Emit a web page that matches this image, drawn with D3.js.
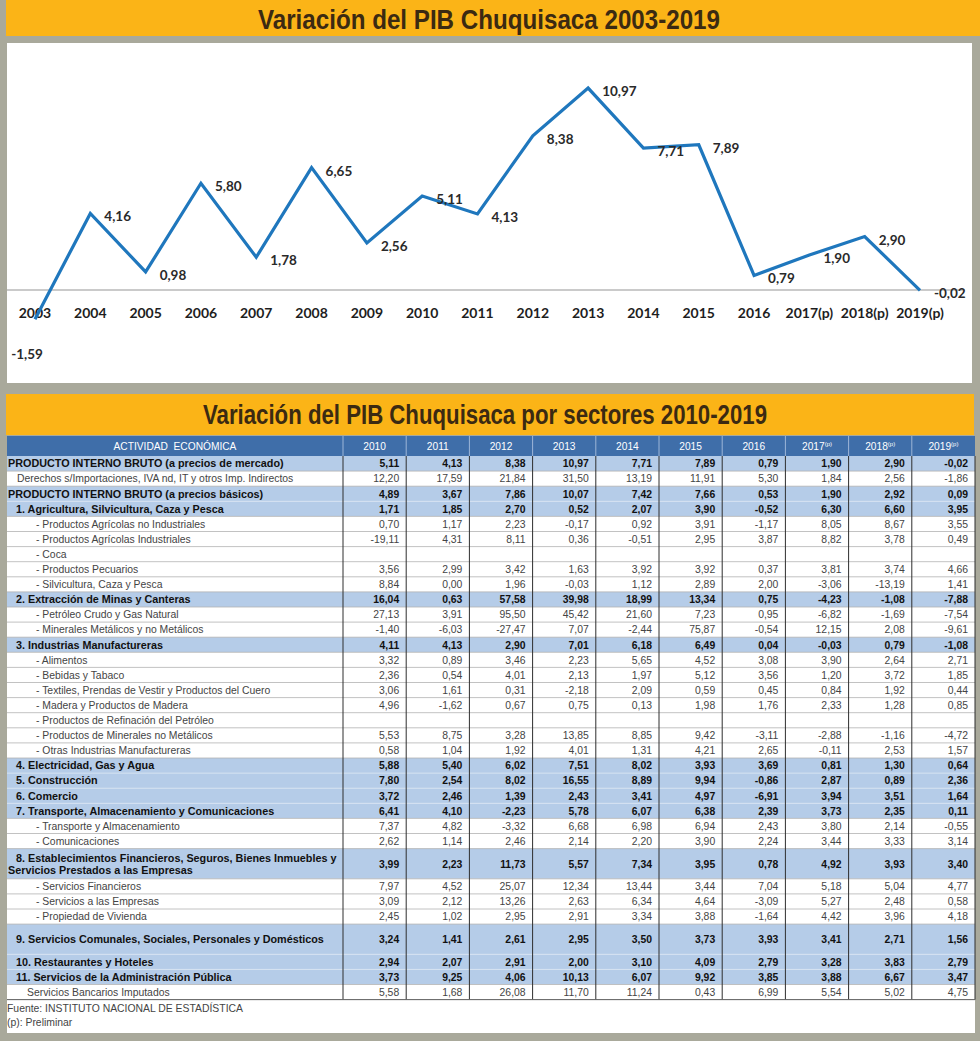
<!DOCTYPE html>
<html><head><meta charset="utf-8">
<script src="https://cdn.jsdelivr.net/npm/d3@7/dist/d3.min.js"></script>
<style>
html,body{margin:0;padding:0;background:#a9a99b;}
svg{display:block;}
</style></head>
<body>
<svg id="c" width="980" height="1041"></svg>
<script>
// ---------- DATA ----------
const chartTitle = "Variación del PIB Chuquisaca 2003-2019";
const tableTitle = "Variación del PIB Chuquisaca por sectores 2010-2019";
const chartYears = ["2003","2004","2005","2006","2007","2008","2009","2010","2011","2012","2013","2014","2015","2016","2017(p)","2018(p)","2019(p)"];
const chartValues = [-1.59,4.16,0.98,5.80,1.78,6.65,2.56,5.11,4.13,8.38,10.97,7.71,7.89,0.79,1.90,2.90,-0.02];

const tableYears = ["2010","2011","2012","2013","2014","2015","2016","2017","2018","2019"];
const prelimYears = ["2017","2018","2019"];
const headerLabel = "ACTIVIDAD  ECONÓMICA";
const sectorLabels = [
 "PRODUCTO INTERNO BRUTO (a precios de mercado)",
 "Derechos s/Importaciones, IVA nd, IT y otros Imp. Indirectos",
 "PRODUCTO INTERNO BRUTO (a precios básicos)",
 "1. Agricultura, Silvicultura, Caza y Pesca",
 "- Productos Agrícolas no Industriales",
 "- Productos Agrícolas Industriales",
 "- Coca",
 "- Productos Pecuarios",
 "- Silvicultura, Caza y Pesca",
 "2. Extracción de Minas y Canteras",
 "- Petróleo Crudo y Gas Natural",
 "- Minerales Metálicos y no Metálicos",
 "3. Industrias Manufactureras",
 "- Alimentos",
 "- Bebidas y Tabaco",
 "- Textiles, Prendas de Vestir y Productos del Cuero",
 "- Madera y Productos de Madera",
 "- Productos de Refinación del Petróleo",
 "- Productos de Minerales no Metálicos",
 "- Otras Industrias Manufactureras",
 "4. Electricidad, Gas y Agua",
 "5. Construcción",
 "6. Comercio",
 "7. Transporte, Almacenamiento y Comunicaciones",
 "- Transporte y Almacenamiento",
 "- Comunicaciones",
 "8. Establecimientos Financieros, Seguros, Bienes Inmuebles y|Servicios Prestados a las Empresas",
 "- Servicios Financieros",
 "- Servicios a las Empresas",
 "- Propiedad de Vivienda",
 "9. Servicios Comunales, Sociales, Personales y Domésticos",
 "10. Restaurantes y Hoteles",
 "11. Servicios de la Administración Pública",
 "Servicios Bancarios Imputados"
];
// kind: T = total, N = note, S = sector, s = subsector, D = sector (tall row)
const sectorKinds = ["T","N","T","S","s","s","s","s","s","S","s","s","S","s","s","s","s","s","s","s","S","S","S","S","s","s","D","s","s","s","D","S","S","N"];
const sectorValues = [
 [5.11,4.13,8.38,10.97,7.71,7.89,0.79,1.90,2.90,-0.02],
 [12.20,17.59,21.84,31.50,13.19,11.91,5.30,1.84,2.56,-1.86],
 [4.89,3.67,7.86,10.07,7.42,7.66,0.53,1.90,2.92,0.09],
 [1.71,1.85,2.70,0.52,2.07,3.90,-0.52,6.30,6.60,3.95],
 [0.70,1.17,2.23,-0.17,0.92,3.91,-1.17,8.05,8.67,3.55],
 [-19.11,4.31,8.11,0.36,-0.51,2.95,3.87,8.82,3.78,0.49],
 [null,null,null,null,null,null,null,null,null,null],
 [3.56,2.99,3.42,1.63,3.92,3.92,0.37,3.81,3.74,4.66],
 [8.84,0.00,1.96,-0.03,1.12,2.89,2.00,-3.06,-13.19,1.41],
 [16.04,0.63,57.58,39.98,18.99,13.34,0.75,-4.23,-1.08,-7.88],
 [27.13,3.91,95.50,45.42,21.60,7.23,0.95,-6.82,-1.69,-7.54],
 [-1.40,-6.03,-27.47,7.07,-2.44,75.87,-0.54,12.15,2.08,-9.61],
 [4.11,4.13,2.90,7.01,6.18,6.49,0.04,-0.03,0.79,-1.08],
 [3.32,0.89,3.46,2.23,5.65,4.52,3.08,3.90,2.64,2.71],
 [2.36,0.54,4.01,2.13,1.97,5.12,3.56,1.20,3.72,1.85],
 [3.06,1.61,0.31,-2.18,2.09,0.59,0.45,0.84,1.92,0.44],
 [4.96,-1.62,0.67,0.75,0.13,1.98,1.76,2.33,1.28,0.85],
 [null,null,null,null,null,null,null,null,null,null],
 [5.53,8.75,3.28,13.85,8.85,9.42,-3.11,-2.88,-1.16,-4.72],
 [0.58,1.04,1.92,4.01,1.31,4.21,2.65,-0.11,2.53,1.57],
 [5.88,5.40,6.02,7.51,8.02,3.93,3.69,0.81,1.30,0.64],
 [7.80,2.54,8.02,16.55,8.89,9.94,-0.86,2.87,0.89,2.36],
 [3.72,2.46,1.39,2.43,3.41,4.97,-6.91,3.94,3.51,1.64],
 [6.41,4.10,-2.23,5.78,6.07,6.38,2.39,3.73,2.35,0.11],
 [7.37,4.82,-3.32,6.68,6.98,6.94,2.43,3.80,2.14,-0.55],
 [2.62,1.14,2.46,2.14,2.20,3.90,2.24,3.44,3.33,3.14],
 [3.99,2.23,11.73,5.57,7.34,3.95,0.78,4.92,3.93,3.40],
 [7.97,4.52,25.07,12.34,13.44,3.44,7.04,5.18,5.04,4.77],
 [3.09,2.12,13.26,2.63,6.34,4.64,-3.09,5.27,2.48,0.58],
 [2.45,1.02,2.95,2.91,3.34,3.88,-1.64,4.42,3.96,4.18],
 [3.24,1.41,2.61,2.95,3.50,3.73,3.93,3.41,2.71,1.56],
 [2.94,2.07,2.91,2.00,3.10,4.09,2.79,3.28,3.83,2.79],
 [3.73,9.25,4.06,10.13,6.07,9.92,3.85,3.88,6.67,3.47],
 [5.58,1.68,26.08,11.70,11.24,0.43,6.99,5.54,5.02,4.75]
];
const footnotes = ["Fuente: INSTITUTO NACIONAL DE ESTADÍSTICA","(p): Preliminar"];

// ---------- DRAW ----------
const svg = d3.select("#c");
const YELLOW = "#fbb417", GRAY = "#a9a99b";
const locale = d3.formatLocale({decimal:",", thousands:".", grouping:[3], currency:["",""], minus:"-"});
const f2 = locale.format(".2f");
const fmt = v => v == null ? "" : f2(v);

svg.append("rect").attr("width",980).attr("height",1041).attr("fill",GRAY);

// banner 1
svg.append("rect").attr("x",6).attr("y",0).attr("width",974).attr("height",36).attr("fill",YELLOW);
svg.append("text").attr("x",489).attr("y",29).attr("text-anchor","middle")
  .attr("font-family","'Liberation Sans',Arial,sans-serif").attr("font-weight","bold").attr("font-size",27)
  .attr("textLength",462).attr("lengthAdjust","spacingAndGlyphs")
  .attr("fill","#3b2a12").text(chartTitle);

// chart panel
svg.append("rect").attr("x",7).attr("y",43).attr("width",965).attr("height",340).attr("fill","#fff");

const x = d3.scalePoint().domain(chartYears).range([35,920]);
const y = d3.scaleLinear().domain([-2,12]).range([326.8,69.1]);

svg.append("line").attr("x1",7).attr("x2",965).attr("y1",y(0)).attr("y2",y(0))
  .attr("stroke","#b9b9b9").attr("stroke-width",1.5);

const labelFont = "Lato,'Open Sans',sans-serif";
svg.append("g").selectAll("text").data(chartYears).join("text")
  .attr("x",d=>x(d)).attr("y",y(0)+28).attr("text-anchor","middle")
  .attr("font-family",labelFont).attr("font-weight","bold").attr("font-size",14)
  .attr("fill","#1e1e1e").text(d=>d);

const line = d3.line().x((d,i)=>x(chartYears[i])).y(d=>y(d));
svg.append("path").datum(chartValues).attr("d",line).attr("fill","none")
  .attr("stroke","#1f77bd").attr("stroke-width",3.2).attr("stroke-linejoin","miter");

svg.append("g").selectAll("text").data(chartValues).join("text")
  .attr("x",(d,i)=> i===0 ? x(chartYears[i])-8 : x(chartYears[i])+14)
  .attr("y",(d,i)=> i===0 ? y(d)+40 : y(d)+8)
  .attr("text-anchor",(d,i)=> i===0 ? "middle" : "start")
  .attr("font-family",labelFont).attr("font-weight","bold").attr("font-size",13.5)
  .attr("fill","#2a2a2a").text(d=>fmt(d));

// banner 2
svg.append("rect").attr("x",6).attr("y",394).attr("width",968).attr("height",41).attr("fill",YELLOW);
svg.append("text").attr("x",485).attr("y",424).attr("text-anchor","middle")
  .attr("font-family","'Liberation Sans',Arial,sans-serif").attr("font-weight","bold").attr("font-size",28)
  .attr("textLength",564).attr("lengthAdjust","spacingAndGlyphs")
  .attr("fill","#3b2a12").text(tableTitle);

// table panel
const tLeft = 7, tRight = 975, labelRight = 343, headTop = 436, headBot = 456, rowH = 15.1;
svg.append("rect").attr("x",tLeft).attr("y",headTop).attr("width",tRight-tLeft).attr("height",1033-headTop).attr("fill","#fff");

const col = d3.scaleBand().domain(tableYears).range([labelRight,tRight]);

// row geometry
const rows = sectorLabels.map((lab,i)=>({lab, kind:sectorKinds[i], vals:sectorValues[i]}));
let cy = headBot;
rows.forEach(r=>{ r.h = r.kind==="D" ? rowH*2 : rowH; r.y = cy; cy += r.h; });
const tBottom = cy;

const tableFont = "'Liberation Sans',Arial,sans-serif";
// header
svg.append("rect").attr("x",tLeft).attr("y",headTop).attr("width",tRight-tLeft).attr("height",headBot-headTop).attr("fill","#3f6ea9");
svg.append("text").attr("x",(tLeft+labelRight)/2).attr("y",headBot-6).attr("text-anchor","middle")
  .attr("font-family",tableFont).attr("font-size",10.2).attr("fill","#fff")
  .attr("xml:space","preserve").text(headerLabel);
const ht = svg.append("g").selectAll("text").data(tableYears).join("text")
  .attr("x",d=>col(d)+col.bandwidth()/2).attr("y",headBot-6).attr("text-anchor","middle")
  .attr("font-family",tableFont).attr("font-size",10.2).attr("fill","#fff");
ht.append("tspan").text(d=>d);
ht.filter(d=>prelimYears.includes(d)).append("tspan").attr("dy",-4).attr("font-size",6).text("(p)");

// row backgrounds
const isBlue = k => k==="T"||k==="S"||k==="D";
svg.append("g").selectAll("rect").data(rows).join("rect")
  .attr("x",tLeft).attr("y",d=>d.y).attr("width",tRight-tLeft).attr("height",d=>d.h)
  .attr("fill",d=>isBlue(d.kind) ? "#b5cce8" : "#fff");

// horizontal separators
svg.append("g").selectAll("line").data(rows).join("line")
  .attr("x1",tLeft).attr("x2",tRight).attr("y1",d=>d.y+d.h).attr("y2",d=>d.y+d.h)
  .attr("stroke",(d,i)=> (isBlue(d.kind) && rows[i+1] && isBlue(rows[i+1].kind)) ? "#dbe6f3" : "#b3b3b3")
  .attr("stroke-width",0.8);

// vertical lines
const vx = [labelRight, ...tableYears.slice(1).map(d=>col(d)), tRight];
svg.append("g").selectAll("line").data(vx).join("line")
  .attr("x1",d=>d).attr("x2",d=>d).attr("y1",headBot).attr("y2",tBottom)
  .attr("stroke","#2e2e2e").attr("stroke-width",1);
svg.append("g").selectAll("line").data(vx.slice(0,-1)).join("line")
  .attr("x1",d=>d).attr("x2",d=>d).attr("y1",headTop).attr("y2",headBot)
  .attr("stroke","#9db6d8").attr("stroke-width",1);
svg.append("line").attr("x1",tLeft).attr("x2",tRight).attr("y1",tBottom).attr("y2",tBottom)
  .attr("stroke","#666").attr("stroke-width",1);

// labels
const indent = (r,i) => r.kind==="T" ? 8 : r.kind==="N" ? (i===1 ? 17 : 27) : (r.kind==="s" ? 36 : 16);
rows.forEach((r,i)=>{
  const bold = isBlue(r.kind);
  const parts = r.lab.split("|");
  const g = svg.append("text").attr("font-family",tableFont).attr("font-size",bold?10.8:10.4)
    .attr("font-weight",bold?"bold":"normal").attr("fill",bold?"#111":"#444");
  if (parts.length===2){
    g.append("tspan").attr("x",indent(r,i)).attr("y",r.y+r.h/2-2).text(parts[0]);
    g.append("tspan").attr("x",8).attr("y",r.y+r.h/2+10).text(parts[1]);
  } else {
    g.attr("x",indent(r,i)).attr("y",r.y+r.h/2+3.8).text(parts[0]);
  }
  svg.append("g").selectAll("text").data(r.vals).join("text")
    .attr("x",(d,j)=>col(tableYears[j])+col.bandwidth()-7).attr("y",r.y+r.h/2+3.8)
    .attr("text-anchor","end").attr("font-family",tableFont).attr("font-size",10.4)
    .attr("font-weight",bold?"bold":"normal").attr("fill",bold?"#111":"#444")
    .text(d=>fmt(d));
});

// footnotes
svg.append("g").selectAll("text").data(footnotes).join("text")
  .attr("x",7).attr("y",(d,i)=>tBottom+12+i*14).attr("font-family",tableFont)
  .attr("font-size",10.4).attr("fill","#444").text(d=>d);
</script>
</body></html>
